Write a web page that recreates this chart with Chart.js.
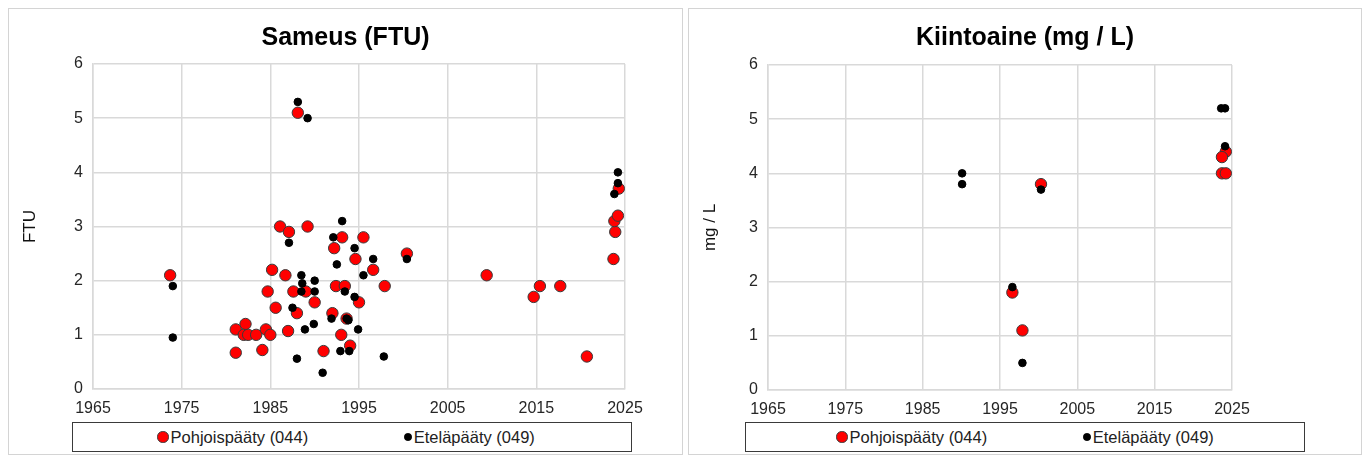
<!DOCTYPE html>
<html>
<head>
<meta charset="utf-8">
<script src="https://cdn.jsdelivr.net/npm/chart.js@4/dist/chart.umd.min.js"></script>
<style>
  body { margin: 0; background: #fff; width: 1370px; height: 459px; overflow: hidden; font-family: "Liberation Sans", Arial, sans-serif; }
  .panel { position: absolute; top: 8px; height: 447px; border: 1px solid #d4d4d4; box-sizing: border-box; background: #fff; }
  .panel canvas { position: absolute; left: 0; top: 0; }
  .legend { position: absolute; top: 413px; width: 560px; height: 30px; border: 1.5px solid #3a3a3a; box-sizing: border-box;
            display: flex; align-items: center; justify-content: center; gap: 96px; font-size: 16.5px; color: #222; }
  .legend .item { display: flex; align-items: center; }
  .legend .dot { display: inline-block; border-radius: 50%; margin-right: 2px; box-sizing: border-box; }
</style>
</head>
<body>
<div class="panel" style="left:8px;width:675px">
  <canvas id="sameus" width="673" height="413"></canvas>
  <div class="legend" id="sameusLegend" style="left:63px;padding-right:12px"></div>
</div>
<div class="panel" style="left:688px;width:674px">
  <canvas id="kiinto" width="672" height="413"></canvas>
  <div class="legend" id="kiintoLegend" style="left:56px"></div>
</div>
<script>
// Sameus (FTU) - Pohjoispääty (044)
const sameusNorthYears = [1973.7, 1985.2, 1984.7, 1985.6, 1982.2, 1981.1, 1982.0, 1982.5, 1983.4, 1984.5, 1985.0, 1981.1, 1984.1,
  1986.1, 1987.1, 1989.2, 1993.1, 1995.5, 1992.2, 1994.6, 1996.6, 1986.7, 1997.9, 1992.4, 1993.4, 1987.6, 1989.0, 1995.0,
  1990.0, 1988.0, 1992.0, 1987.0, 1993.0, 1994.0, 1991.0, 1993.6, 1988.1, 2000.4, 2009.4, 2015.4, 2014.7, 2017.7, 2020.7,
  2023.7, 2023.9, 2023.8, 2024.2, 2024.3];
const sameusNorthValues = [2.1, 2.2, 1.8, 1.5, 1.2, 1.1, 1.0, 1.0, 1.0, 1.1, 1.0, 0.67, 0.72,
  3.0, 2.9, 3.0, 2.8, 2.8, 2.6, 2.4, 2.2, 2.1, 1.9, 1.9, 1.9, 1.8, 1.8, 1.6,
  1.6, 1.4, 1.4, 1.07, 1.0, 0.8, 0.7, 1.3, 5.1, 2.5, 2.1, 1.9, 1.7, 1.9, 0.6,
  2.4, 2.9, 3.1, 3.2, 3.7];
// Sameus (FTU) - Eteläpääty (049)
const sameusSouthYears = [1974.0, 1974.0, 1988.1, 1989.2, 1993.1, 1987.1, 1992.1, 1994.5, 1996.6, 1992.5, 1995.5, 1988.5,
  1988.6, 1990.0, 1993.4, 1990.0, 1988.5, 1994.5, 1987.5, 1991.9, 1993.6, 1993.8, 1989.9, 1988.9, 1994.9, 1992.9, 1993.9,
  1988.0, 1997.8, 1990.9, 2000.4, 2024.2, 2024.2, 2023.8];
const sameusSouthValues = [1.9, 0.95, 5.3, 5.0, 3.1, 2.7, 2.8, 2.6, 2.4, 2.3, 2.1, 2.1,
  1.95, 2.0, 1.8, 1.8, 1.8, 1.7, 1.5, 1.3, 1.3, 1.27, 1.2, 1.1, 1.1, 0.7, 0.7,
  0.56, 0.6, 0.3, 2.4, 4.0, 3.8, 3.6];
// Kiintoaine (mg / L)
const kiintoNorthYears = [2000.3, 1996.6, 1997.9, 2024.2, 2023.7, 2023.7, 2024.2];
const kiintoNorthValues = [3.8, 1.8, 1.1, 4.4, 4.3, 4.0, 4.0];
const kiintoSouthYears = [1990.1, 1990.1, 2000.3, 1996.6, 1997.9, 2023.6, 2024.1, 2024.1];
const kiintoSouthValues = [4.0, 3.8, 3.7, 1.9, 0.5, 5.2, 5.2, 4.5];

const seriesNames = ["Pohjoispääty (044)", "Eteläpääty (049)"];
const xTicks = [1965, 1975, 1985, 1995, 2005, 2015, 2025];
const yTicks = [0, 1, 2, 3, 4, 5, 6];

const toPoints = (xs, ys) => xs.map((x, i) => ({ x: x, y: ys[i] }));
const gridCol = "#d9d9d9";
const txtCol = "#262626";

function makeChart(id, legendId, title, yTitle, north, south, box) {
  const datasets = [
    { label: seriesNames[0], data: north, backgroundColor: "#ff0000", borderColor: "#3a3a3a", borderWidth: 1, pointRadius: 5.7, order: 1 },
    { label: seriesNames[1], data: south, backgroundColor: "#000000", borderColor: "#000000", borderWidth: 1, pointRadius: 3.8, order: 0 }
  ];
  new Chart(document.getElementById(id), {
    type: "scatter",
    data: { datasets: datasets },
    options: {
      responsive: false,
      animation: false,
      layout: { padding: 0 },
      plugins: {
        legend: { display: false },
        tooltip: { enabled: false },
        title: { display: true, text: title, color: "#000", font: { family: "Liberation Sans", size: 25, weight: "bold" },
                 padding: { top: 14, bottom: box.titleBottom } }
      },
      scales: {
        x: {
          type: "linear", min: xTicks[0], max: xTicks[xTicks.length - 1],
          afterBuildTicks: s => { s.ticks = xTicks.map(v => ({ value: v })); },
          afterFit: s => { s.height = box.xh; },
          ticks: { color: txtCol, font: { family: "Liberation Sans", size: 16 }, padding: 10, callback: v => String(v) },
          grid: { color: gridCol, lineWidth: 1.5, drawTicks: false },
          border: { color: gridCol, width: 1.5 }
        },
        y: {
          min: yTicks[0], max: yTicks[yTicks.length - 1],
          afterBuildTicks: s => { s.ticks = yTicks.map(v => ({ value: v })); },
          afterFit: s => { s.width = box.left; },
          ticks: { color: txtCol, font: { family: "Liberation Sans", size: 16 }, padding: 10 },
          grid: { color: gridCol, lineWidth: 1.5, drawTicks: false },
          border: { color: gridCol, width: 1.5 },
          title: { display: true, text: yTitle, color: "#111", font: { family: "Liberation Sans", size: 17 }, padding: { top: 11, bottom: 0 } }
        },
        // empty right axis only to keep the plot narrower than the panel
        yRight: {
          position: "right", min: 0, max: 6,
          afterFit: s => { s.width = box.right; },
          ticks: { display: false },
          grid: { display: false, drawTicks: false },
          border: { display: false }
        }
      }
    }
  });
  // legend kept as an html box like in the original
  const lg = document.getElementById(legendId);
  datasets.forEach(d => {
    const it = document.createElement("span");
    it.className = "item";
    const dot = document.createElement("span");
    dot.className = "dot";
    const sz = d.pointRadius * 2;
    dot.style.width = sz + "px";
    dot.style.height = sz + "px";
    dot.style.background = d.backgroundColor;
    dot.style.border = "1px solid " + d.borderColor;
    it.appendChild(dot);
    it.appendChild(document.createTextNode(d.label));
    lg.appendChild(it);
  });
}

makeChart("sameus", "sameusLegend", "Sameus (FTU)", "FTU",
  toPoints(sameusNorthYears, sameusNorthValues), toPoints(sameusSouthYears, sameusSouthValues),
  { left: 84, right: 57, titleBottom: 11, xh: 33 });
makeChart("kiinto", "kiintoLegend", "Kiintoaine (mg / L)", "mg / L",
  toPoints(kiintoNorthYears, kiintoNorthValues), toPoints(kiintoSouthYears, kiintoSouthValues),
  { left: 79, right: 129, titleBottom: 12, xh: 32 });
</script>
</body>
</html>
